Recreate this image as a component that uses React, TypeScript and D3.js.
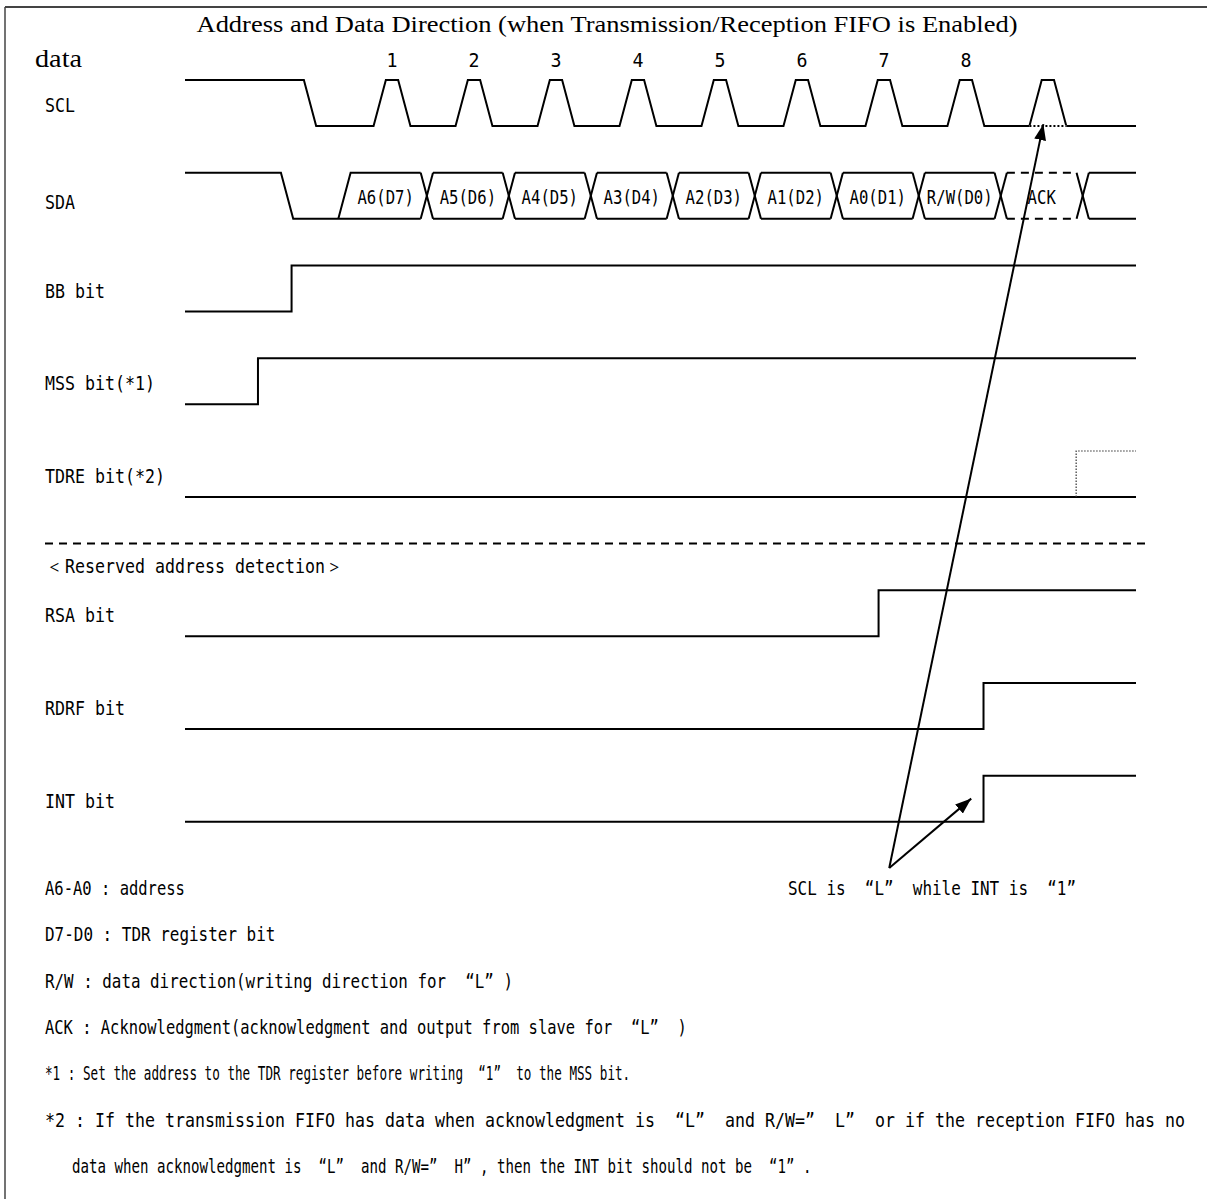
import * as d3 from "d3";

// timing diagram values, in SCL clock periods (0 = rise of clock 1)
const title = "Address and Data Direction (when Transmission/Reception FIFO is Enabled)";
const timeStart = -2.3;
const timeEnd = 9.3;
const edgeTime = 0.15;

const bitNumbers = ["1", "2", "3", "4", "5", "6", "7", "8"];
const sclPulseTimes = [0, 1, 2, 3, 4, 5, 6, 7, 8];
const sclHeldLowPulse = 8;
const sclFirstFall = -0.85;

const sdaFall = -1.13;
const sdaRise = -0.43;
const sdaCrossings = [0.65, 1.65, 2.65, 3.65, 4.65, 5.65, 6.65, 7.65, 8.65];
const sdaCellLabels = ["A6(D7)", "A5(D6)", "A4(D5)", "A3(D4)", "A2(D3)", "A1(D2)", "A0(D1)", "R/W(D0)", "ACK"];
const sdaDashedCell = "ACK";

const stepNames = ["BB bit", "MSS bit(*1)", "TDRE bit(*2)", "RSA bit", "RDRF bit", "INT bit"];
const stepRows = [2, 3, 4, 5.5, 6.5, 7.5];
const stepRiseTimes = [-1.0, -1.41, null, 6.16, 7.44, 7.44];
const stepDottedRise = [null, null, 8.57, null, null, null];

const separatorRow = 4.5;
const reservedLabel = "＜Reserved address detection＞";

const notes = [
  "A6-A0 : address",
  "D7-D0 : TDR register bit",
  "R/W : data direction(writing direction for “L”)",
  "ACK : Acknowledgment(acknowledgment and output from slave for “L” )",
  "*1 : Set the address to the TDR register before writing “1” to the MSS bit.",
  "*2 : If the transmission FIFO has data when acknowledgment is “L” and R/W=” L” or if the reception FIFO has no",
  "data when acknowledgment is “L” and R/W=” H”, then the INT bit should not be “1”.",
];
const noteIndented = [false, false, false, false, false, false, true];

const calloutText = "SCL is “L” while INT is “1”";
const calloutFrom = { t: 6.29, row: 8, level: 0 };
const calloutTargets = [
  { t: 8.17, row: 0, level: 0.04 },
  { t: 7.29, row: 7.5, level: 0.5 },
];

const W = 1207;
const H = 1199;
const serif = "'Liberation Serif', 'DejaVu Serif', serif";
const mono = "'DejaVu Sans Mono', 'Liberation Mono', monospace";
const monoAdvance = 12.04; // DejaVu Sans Mono advance at 20px
// character cell width of each footnote line as typeset in the original
const noteCellWidths = [9.33, 9.6, 9.55, 9.3, 7.6, 10.0, 8.5];

const x = d3.scaleLinear([timeStart, timeEnd], [185, 1136]);
const y = d3.scaleLinear([0, 4], [126, 497]);
const amp = 46;
const yl = (row: number, level: number) => y(row) - level * amp;

const line = d3.line<[number, number]>().x(d => x(d[0])).y(d => d[1]);

// gothic-style monospaced text: half-width chars take one cell, full-width two
function MonoText({ s, x0, y0, cell = 10, anchor = "start" }: { s: string; x0: number; y0: number; cell?: number; anchor?: string }) {
  const chars = Array.from(s);
  const units = chars.map(c => (c.charCodeAt(0) > 0x2000 ? 2 : 1));
  const total = d3.sum(units) * cell;
  const start = anchor === "middle" ? x0 - total / 2 : x0;
  const sx = cell / monoAdvance;
  let acc = 0;
  return (
    <text transform={`translate(${start},${y0}) scale(${sx},1)`} fontFamily={mono} fontSize={20}
      style={{ whiteSpace: "pre" }} fill="#000">
      {chars.map((c, i) => {
        const u = units[i];
        let left = acc;
        if (c === "“") left = acc + 1;
        else if (c === "”") left = acc;
        else if (u === 2) left = acc + 0.1;
        acc += u;
        return <tspan key={i} x={left * monoAdvance}>{c}</tspan>;
      })}
    </text>
  );
}

function sclPath(row: number) {
  const pts: [number, number][] = [
    [timeStart, yl(row, 1)],
    [sclFirstFall, yl(row, 1)],
    [sclFirstFall + edgeTime, yl(row, 0)],
  ];
  sclPulseTimes.forEach(t => {
    pts.push([t, yl(row, 0)]);
    pts.push([t + edgeTime, yl(row, 1)]);
    pts.push([t + 2 * edgeTime, yl(row, 1)]);
    pts.push([t + 3 * edgeTime, yl(row, 0)]);
  });
  pts.push([timeEnd, yl(row, 0)]);
  return pts;
}

export default function App() {
  const sclRow = 0;
  const sdaRow = 1;
  const hx = 0.075;
  const hi = yl(sdaRow, 1);
  const lo = yl(sdaRow, 0);

  const scl = sclPath(sclRow);
  const heldStart = sclHeldLowPulse;
  const heldEnd = sclHeldLowPulse + 3 * edgeTime;

  const sdaSolid: string[] = [];
  const sdaDashed: string[] = [];
  sdaSolid.push(line([[timeStart, hi], [sdaFall, hi], [sdaFall + edgeTime, lo], [sdaCrossings[0] - hx, lo]])!);
  sdaSolid.push(line([[sdaRise, lo], [sdaRise + edgeTime, hi], [sdaCrossings[0] - hx, hi]])!);
  sdaCrossings.forEach((c, i) => {
    sdaSolid.push(line([[c - hx, hi], [c + hx, lo]])!);
    sdaSolid.push(line([[c - hx, lo], [c + hx, hi]])!);
    const next = i + 1 < sdaCrossings.length ? sdaCrossings[i + 1] - hx : timeEnd;
    const label = sdaCellLabels[i + 1];
    const target = label === sdaDashedCell ? sdaDashed : sdaSolid;
    target.push(line([[c + hx, hi], [next, hi]])!);
    target.push(line([[c + hx, lo], [next, lo]])!);
  });
  const cellCenters = sdaCellLabels.map((_, i) =>
    i === 0 ? (sdaRise + edgeTime + sdaCrossings[0] - hx) / 2 : (sdaCrossings[i - 1] + sdaCrossings[i]) / 2
  );

  const sigStroke = { stroke: "#000", strokeWidth: 2, fill: "none" };

  return (
    <svg width={W} height={H} style={{ position: "absolute", left: 0, top: 0, background: "#fff" }}>
      <defs>
        <marker id="arrow" viewBox="0 0 16 12" refX="16" refY="6" markerWidth="16" markerHeight="12"
          markerUnits="userSpaceOnUse" orient="auto">
          <path d="M0,0 L16,6 L0,12 z" fill="#000" />
        </marker>
      </defs>

      {/* frame */}
      <line x1={5} y1={7} x2={W} y2={7} stroke="#444" strokeWidth={2} />
      <line x1={5} y1={7} x2={5} y2={H} stroke="#444" strokeWidth={1.5} />

      <text x={607} y={32} fontFamily={serif} fontSize={24} textAnchor="middle" textLength={821}
        lengthAdjust="spacingAndGlyphs">{title}</text>
      <text x={35} y={67} fontFamily={serif} fontSize={25} textLength={47} lengthAdjust="spacingAndGlyphs">data</text>

      {bitNumbers.map((b, i) => (
        <MonoText key={b} s={b} x0={x(sclPulseTimes[i] + 1.5 * edgeTime)} y0={67} cell={11} anchor="middle" />
      ))}

      {/* SCL */}
      <MonoText s="SCL" x0={45} y0={y(sclRow) - 14} />
      <path d={line(scl.filter(p => !(p[0] > heldStart && p[0] < heldEnd && p[1] === yl(sclRow, 0))))!} {...sigStroke} />
      <rect x={x(heldStart)} y={yl(sclRow, 0) - 1} width={x(heldEnd) - x(heldStart)} height={2} fill="#fff" />
      <line x1={x(heldStart)} x2={x(heldEnd)} y1={yl(sclRow, 0)} y2={yl(sclRow, 0)} stroke="#000"
        strokeWidth={2} strokeDasharray="2,2" />

      {/* SDA */}
      <MonoText s="SDA" x0={45} y0={y(sdaRow) - 10} />
      {sdaSolid.map((d, i) => <path key={"s" + i} d={d} {...sigStroke} />)}
      {sdaDashed.map((d, i) => <path key={"d" + i} d={d} {...sigStroke} strokeDasharray="8,6" />)}
      {sdaCellLabels.map((lab, i) => (
        <MonoText key={lab} s={lab} x0={x(cellCenters[i])} y0={yl(sdaRow, 0.5) + 8} cell={9.4} anchor="middle" />
      ))}

      {/* step signals */}
      {stepNames.map((name, i) => {
        const row = stepRows[i];
        const rise = stepRiseTimes[i];
        const pts: [number, number][] = rise === null
          ? [[timeStart, yl(row, 0)], [timeEnd, yl(row, 0)]]
          : [[timeStart, yl(row, 0)], [rise, yl(row, 0)], [rise, yl(row, 1)], [timeEnd, yl(row, 1)]];
        const dot = stepDottedRise[i];
        return (
          <g key={name}>
            <MonoText s={name} x0={45} y0={y(row) - 14} />
            <path d={line(pts)!} {...sigStroke} />
            {dot !== null && (
              <path d={line([[dot, yl(row, 0)], [dot, yl(row, 1)], [timeEnd, yl(row, 1)]])!} fill="none"
                stroke="#333" strokeWidth={1.2} strokeDasharray="1.5,1.5" />
            )}
          </g>
        );
      })}

      {/* separator */}
      <line x1={45} x2={1150} y1={y(separatorRow)} y2={y(separatorRow)} stroke="#000" strokeWidth={2}
        strokeDasharray="8,6" />
      <MonoText s={reservedLabel} x0={45} y0={573} />

      {/* callout arrows */}
      {calloutTargets.map((tg, i) => (
        <line key={i} x1={x(calloutFrom.t)} y1={yl(calloutFrom.row, calloutFrom.level)} x2={x(tg.t)}
          y2={yl(tg.row, tg.level)} stroke="#000" strokeWidth={2} markerEnd="url(#arrow)" />
      ))}
      <MonoText s={calloutText} x0={788} y0={895} cell={9.6} />

      {/* notes */}
      {notes.map((n, i) => (
        <MonoText key={i} s={n} x0={noteIndented[i] ? 72 : 45} y0={895 + i * 46.3} cell={noteCellWidths[i]} />
      ))}
    </svg>
  );
}
